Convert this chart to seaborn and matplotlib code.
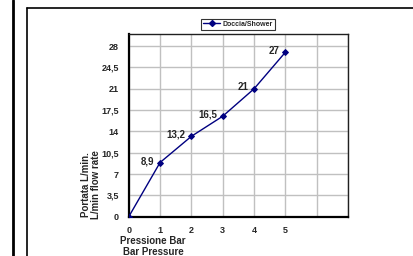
import matplotlib
matplotlib.use('Agg')
import matplotlib.pyplot as plt
import seaborn as sns
import pandas as pd
from matplotlib.lines import Line2D

pressure = [0, 1, 2, 3, 4, 5]
flow = [0, 8.9, 13.2, 16.5, 21, 27]
point_labels = ['', '8,9', '13,2', '16,5', '21', '27']
y_ticks = [0, 3.5, 7, 10.5, 14, 17.5, 21, 24.5, 28]
y_ticklabels = ['0', '3,5', '7', '10,5', '14', '17,5', '21', '24,5', '28']
x_ticks = [0, 1, 2, 3, 4, 5, 6, 7]
x_ticklabels = ['0', '1', '2', '3', '4', '5', '', '']

sns.set_style('white')
plt.rcParams['font.family'] = ['Liberation Sans', 'DejaVu Sans']
plt.rcParams['font.weight'] = 'bold'

df = pd.DataFrame({'Pressione': pressure, 'Portata': flow})

fig = plt.figure(figsize=(4.14, 2.56), dpi=100)
ax = fig.add_axes([0.311, 0.1535, 0.5296, 0.7137])

navy = '#000080'
sns.lineplot(data=df, x='Pressione', y='Portata', ax=ax, color=navy, lw=1,
             marker='D', markersize=3, markeredgecolor=navy, zorder=3)

for x, y, t in zip(pressure, flow, point_labels):
    if t:
        ax.annotate(t, (x, y), xytext=(-4, 1), textcoords='offset points',
                    ha='right', va='center', fontsize=7, fontweight='bold')

ax.set_xlim(0, 7)
ax.set_ylim(0, 30)
ax.set_xticks(x_ticks)
ax.set_xticklabels(x_ticklabels)
ax.set_yticks(y_ticks)
ax.set_yticklabels(y_ticklabels)
ax.tick_params(labelsize=6.5, length=3, width=1, direction='out', pad=4)
ax.grid(True, color='#c0c0c0', lw=1)
ax.set_axisbelow(True)
ax.set_xlabel('')
ax.set_ylabel('')
for s in ['left', 'bottom']:
    ax.spines[s].set_linewidth(1.6)
    ax.spines[s].set_color('black')
for s in ['top', 'right']:
    ax.spines[s].set_linewidth(1)
    ax.spines[s].set_color('#202020')

fig.text(0.22, 0.28, 'Portata L/min.\nL/min flow rate', rotation=90,
         ha='center', va='center', fontsize=7, fontweight='bold', linespacing=1.0)
fig.text(0.37, 0.037, 'Pressione Bar\nBar Pressure', ha='center', va='center',
         fontsize=7, fontweight='bold', linespacing=1.1)

handle = Line2D([], [], color=navy, lw=1, marker='D', markersize=3)
leg = fig.legend([handle], ['Doccia/Shower'], loc='center',
                 bbox_to_anchor=(0.575, 0.905), fontsize=5, frameon=True,
                 fancybox=False, edgecolor='black', handlelength=2.5,
                 borderpad=0.3, handletextpad=0.4)
leg.get_frame().set_linewidth(0.8)

# page frame lines
fig.add_artist(Line2D([13 / 414, 13 / 414], [0, 1], color='black', lw=2))
fig.add_artist(Line2D([27 / 414, 27 / 414], [0, 1 - 7.5 / 256], color='black', lw=1.2))
fig.add_artist(Line2D([27 / 414, 1], [1 - 7.5 / 256, 1 - 7.5 / 256], color='black', lw=1.2))

fig.savefig('out.png', dpi=100)
